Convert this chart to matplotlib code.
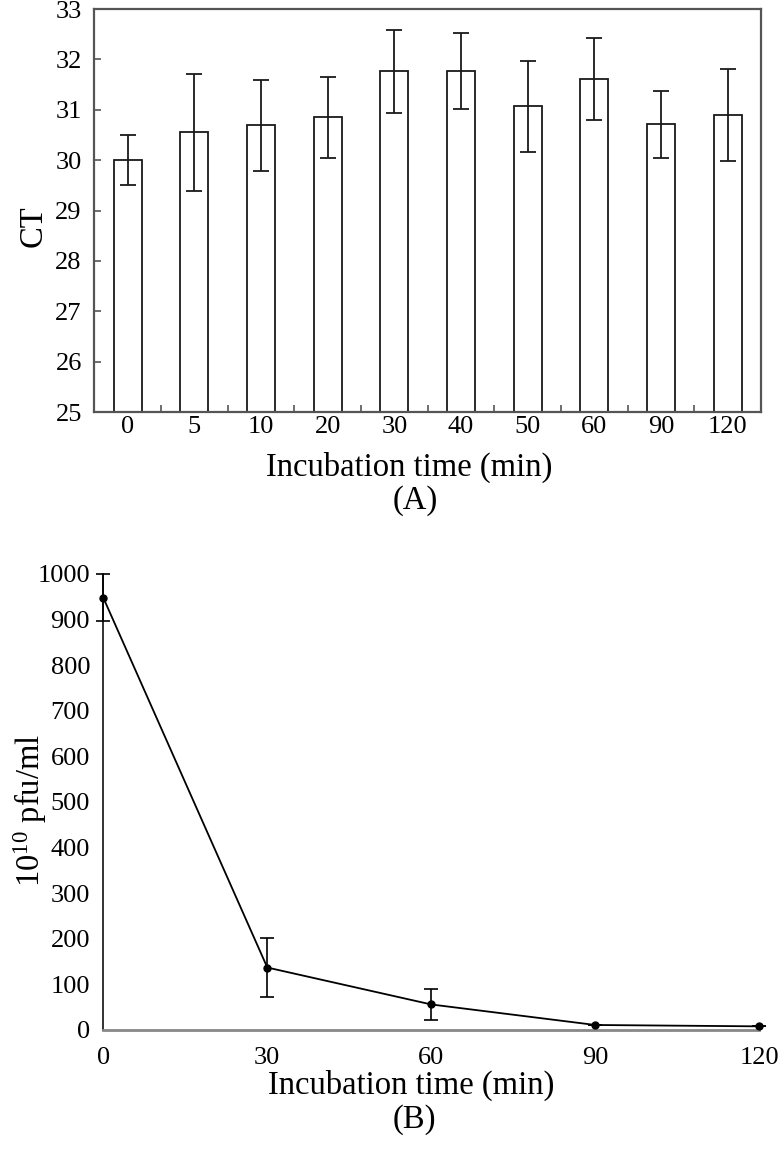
import matplotlib
matplotlib.use("Agg")
import matplotlib.pyplot as plt
import numpy as np

# ---- data (A) ----
ct_categories = ["0", "5", "10", "20", "30", "40", "50", "60", "90", "120"]
ct_values = [30.00, 30.55, 30.69, 30.85, 31.76, 31.77, 31.07, 31.61, 30.71, 30.89]
ct_errors = [0.50, 1.16, 0.90, 0.80, 0.82, 0.75, 0.90, 0.82, 0.67, 0.91]
ct_yticks = [25, 26, 27, 28, 29, 30, 31, 32, 33]

# ---- data (B) ----
pfu_times = [0, 30, 60, 90, 120]
pfu_values = [948, 137, 56, 11, 8]
pfu_errors = [52, 64, 33, 0, 0]
pfu_yticks = [0, 100, 200, 300, 400, 500, 600, 700, 800, 900, 1000]
pfu_xticks = [0, 30, 60, 90, 120]

plt.rcParams['font.family'] = ['Liberation Serif', 'DejaVu Serif']
plt.rcParams['mathtext.fontset'] = 'custom'
plt.rcParams['mathtext.rm'] = 'Liberation Serif'
plt.rcParams['mathtext.it'] = 'Liberation Serif:italic'

W, H = 780, 1164
fig = plt.figure(figsize=(W / 100, H / 100), dpi=100)

def axes_px(left, top, right, bottom):
    return fig.add_axes([left / W, 1 - bottom / H, (right - left) / W, (bottom - top) / H])

# ---------------- (A) bar chart ----------------
ax1 = axes_px(94.3, 9, 761, 412)
x = np.arange(len(ct_categories))
ax1.bar(x, ct_values, width=0.42, bottom=0, color='white', edgecolor='#1a1a1a',
        linewidth=1.3, zorder=2)
ax1.errorbar(x, ct_values, yerr=ct_errors, fmt='none', ecolor='#1a1a1a',
             elinewidth=1.3, capsize=5.5, capthick=1.3, zorder=3)
ax1.set_xlim(-0.5, len(ct_categories) - 0.5)
ax1.set_ylim(25, 33)
ax1.set_yticks(ct_yticks)
ax1.set_xticks(x)
ax1.set_xticklabels(ct_categories)
ax1.set_xticks(np.arange(0.5, len(ct_categories) - 0.5, 1.0), minor=True)
ax1.tick_params(axis='x', which='major', length=0, pad=3, labelsize=19)
ax1.tick_params(axis='x', which='minor', direction='in', length=5, width=1.2, color='#555555')
ax1.tick_params(axis='y', direction='in', length=5, width=1.2, color='#555555',
                pad=9, labelsize=19)
for s in ax1.spines.values():
    s.set_color('#555555')
    s.set_linewidth(1.6)
ax1.set_ylabel('CT', fontsize=23.5, va='center')
ax1.yaxis.set_label_coords(-0.092, 0.462)
ax1.set_xlabel('Incubation time (min)', fontsize=23.5, va='baseline')
ax1.xaxis.set_label_coords(0.4726, -0.157)
fig.text(415 / W, 1 - 501 / H, '(A)', fontsize=23.5, ha='center', va='center')

# ---------------- (B) line chart ----------------
ax2 = axes_px(103.3, 574, 759.3, 1030)
ax2.errorbar(pfu_times, pfu_values, yerr=pfu_errors, fmt='-o', color='black',
             ecolor='black', linewidth=1.3, elinewidth=1.2, markersize=5,
             capsize=5, capthick=1.2, clip_on=False, zorder=3)
ax2.set_xlim(0, 120)
ax2.set_ylim(0, 1000)
ax2.set_xticks(pfu_xticks)
ax2.set_yticks(pfu_yticks)
ax2.tick_params(axis='x', length=0, pad=12, labelsize=19)
ax2.tick_params(axis='y', length=0, pad=9.5, labelsize=19)
ax2.spines['top'].set_visible(False)
ax2.spines['right'].set_visible(False)
ax2.spines['left'].set_color('#222222')
ax2.spines['left'].set_linewidth(1.3)
ax2.spines['bottom'].set_color('#888888')
ax2.spines['bottom'].set_linewidth(2.0)
ax2.set_ylabel(r'$\mathregular{10^{10}}$ pfu/ml', fontsize=23.5, va='center')
ax2.yaxis.set_label_coords(-0.112, 0.481)
ax2.set_xlabel('Incubation time (min)', fontsize=23.5, va='baseline')
ax2.xaxis.set_label_coords(0.4695, -0.1404)
fig.text(414 / W, 1 - 1120 / H, '(B)', fontsize=23.5, ha='center', va='center')

fig.savefig('out.png', dpi=100)
